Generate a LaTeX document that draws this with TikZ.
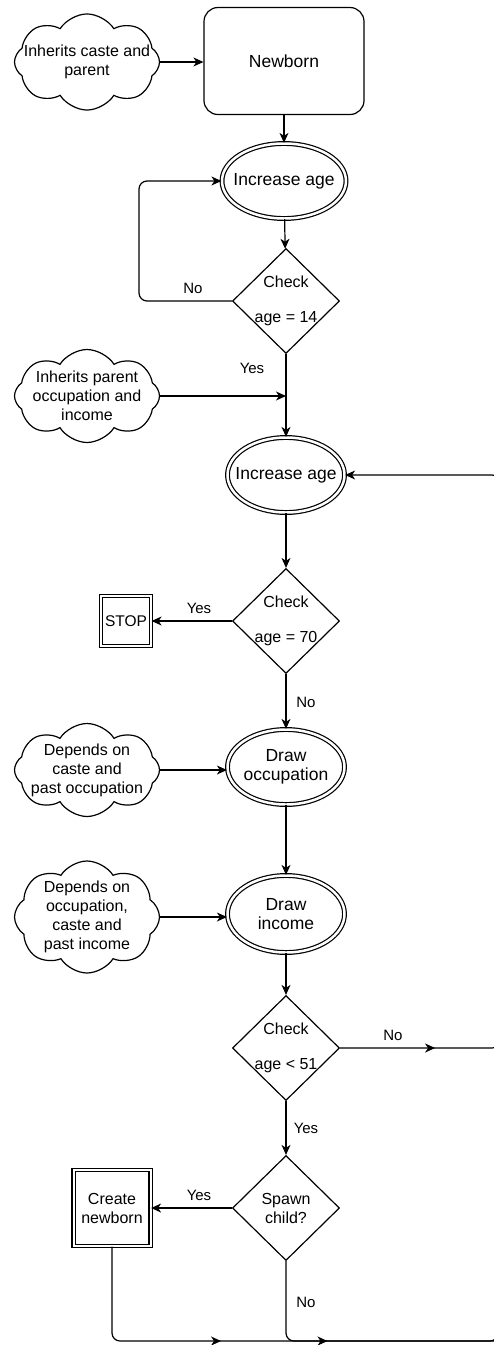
\documentclass[tikz,border=0pt]{standalone}
\usepackage{fontspec}
\setmainfont{Liberation Sans}
\usetikzlibrary{arrows.meta}
\usetikzlibrary{shapes.geometric,shapes.symbols}
\usetikzlibrary{decorations.markings}

\begin{document}
\begin{tikzpicture}[x=1pt,y=-1pt]
\tikzstyle{every node}=[font=\fontsize{16}{19}\selectfont, align=center]
\tikzstyle{line}=[line width=1.2pt]
\tikzstyle{flow}=[line, ->, >={Stealth[length=10pt,width=9pt,inset=3pt]}]
\tikzstyle{note}=[draw, line, cloud, cloud puffs=8, cloud puff arc=115, aspect=1.6, inner sep=-20pt, minimum width=145pt, minimum height=93pt]
\tikzstyle{proc}=[draw, line, ellipse, double, double distance=2.5pt, inner sep=-20pt, minimum width=117pt, minimum height=75pt, font=\fontsize{17.5}{19}\selectfont]
\tikzstyle{check}=[draw, line, diamond, inner sep=-20pt, minimum width=107pt, minimum height=105pt]
\tikzstyle{final}=[draw, line, rectangle, double, double distance=2pt, inner sep=0pt]
\tikzstyle{lbl}=[font=\fontsize{15}{18}\selectfont]
\tikzset{midarrow/.style={postaction={decorate}, decoration={markings, mark=at position #1 with {\arrow{Stealth[length=10pt,width=9pt,inset=3pt]}}}}}
\path[use as bounding box, fill=white] (0,0) rectangle (494,1345);

% start
\node[note] (inhcaste) at (87,62) {Inherits caste and\\parent};
\node[draw, line, rounded corners=14pt, minimum width=160pt, minimum height=107pt, font=\fontsize{17.5}{19}\selectfont] (newborn) at (284,61) {Newborn};
\node[proc, minimum width=124pt] (age1) at (284,181) {Increase age};
\node[check] (chk14) at (286,301) {Check\\[16pt]age = 14};
\coordinate (back) at (139,301);

% adult life
\node[note] (inhocc) at (87,396) {Inherits parent\\occupation and\\income};
\node[proc] (age2) at (286,475) {Increase age};
\node[check] (chk70) at (286,621) {Check\\[16pt]age = 70};
\node[final, minimum size=50pt, font=\fontsize{15.5}{18}\selectfont] (stop) at (126,621) {STOP};
\node[note] (depocc) at (87,770) {Depends on\\caste and\\past occupation};
\node[proc] (drawocc) at (286,767) {Draw\\occupation};
\node[note, minimum height=112pt] (depinc) at (87,917) {Depends on\\occupation,\\caste and\\past income};
\node[proc, minimum height=77pt] (drawinc) at (286,914) {Draw\\income};
\node[check] (chk51) at (286,1048) {Check\\[16pt]age < 51};
\node[check] (spawn) at (286,1208) {Spawn\\child?};
\node[final, minimum width=77pt, minimum height=76pt] (create) at (112,1208) {Create\\newborn};

% loop corners
\coordinate (rloopB) at (498,1048);
\coordinate (rloopT) at (498,475);
\coordinate (rbot) at (498,1341);

% connectors
\draw[flow] (inhcaste.east) -- (inhcaste.east -| newborn.west);
\draw[flow] (newborn) -- (age1);
\draw[flow] (age1) -- (chk14);
\draw[flow, rounded corners=8pt] (chk14.west) -- (back) |- (age1.west);
\node[lbl] (no1) at (193,288) {No};
\draw[flow] (chk14) -- (age2);
\node[lbl] (yes1) at (252,368) {Yes};
\draw[flow] (inhocc.east) -- (inhocc.east -| age2);
\draw[flow] (age2) -- (chk70);
\draw[flow] (chk70) -- (stop);
\node[lbl] (yes2) at (199,608) {Yes};
\draw[flow] (chk70) -- (drawocc);
\node[lbl] (no2) at (306,702) {No};
\draw[flow] (depocc.east) -- (depocc.east -| drawocc.west);
\draw[flow] (drawocc) -- (drawinc);
\draw[flow] (depinc.east) -- (depinc.east -| drawinc.west);
\draw[flow] (drawinc) -- (chk51);
\draw[flow, rounded corners=6pt, midarrow=95pt] (chk51.east) -- (rloopB) -- (rloopT) -- (age2.east);
\node[lbl] (no3) at (393,1035) {No};
\draw[flow] (chk51) -- (spawn);
\node[lbl] (yes3) at (306,1128) {Yes};
\draw[flow] (spawn) -- (create);
\node[lbl] (yes4) at (199,1195) {Yes};
\draw[line, rounded corners=8pt, midarrow=200pt] (create.south) |- (rbot) -- (rloopB);
\draw[line, rounded corners=8pt, midarrow=118pt] (spawn.south) |- (rbot);
\node[lbl] (no4) at (306,1302) {No};
\end{tikzpicture}
\end{document}
